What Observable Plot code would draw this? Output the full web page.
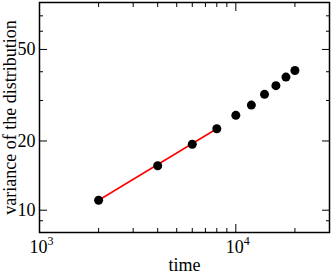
<!DOCTYPE html>
<html><head><meta charset="utf-8">
<script src="https://cdn.jsdelivr.net/npm/d3@7"></script>
<script src="https://cdn.jsdelivr.net/npm/@observablehq/plot@0.6"></script>
<style>body{margin:0;background:#fff} svg{display:block}</style>
</head><body><div id="chart"></div>
<script>
const time = [2000, 4000, 6000, 8000, 10000, 12000, 14000, 16000, 18000, 20000];
const variance = [11.05, 15.6, 19.35, 22.6, 25.85, 28.65, 31.9, 34.8, 37.9, 40.5];
const fitTime = [2000, 8000];
const fitVariance = [11.05, 22.6];
const xMajor = [1000, 10000];
const xMinor = [2000, 3000, 4000, 5000, 6000, 7000, 8000, 9000, 20000];
const xTickLabels = ["10^3", "10^4"];
const yMajor = [10, 20, 50];
const yMinor = [9, 30, 40, 60, 70];
const yTickLabels = ["10", "20", "50"];
const xLabel = "time";
const yLabel = "variance of the distribution";

const points = time.map((t, i) => ({t, v: variance[i]}));
const fit = fitTime.map((t, i) => ({t, v: fitVariance[i]}));
const font = "'Liberation Serif', 'Times New Roman', serif";

const tickOnly = () => "";
const chart = Plot.plot({
  width: 333, height: 273,
  marginLeft: 39, marginRight: 4, marginTop: 2, marginBottom: 41,
  style: {fontFamily: font, fontSize: "18px", background: "white", color: "black"},
  x: {type: "log", domain: [1000, 30000]},
  y: {type: "log", domain: [8, 80]},
  marks: [
    // inward ticks, all four sides
    Plot.axisX(xMajor, {anchor: "bottom", tickSize: -8, tickFormat: tickOnly, label: null}),
    Plot.axisX(xMinor, {anchor: "bottom", tickSize: -4, tickFormat: tickOnly, label: null}),
    Plot.axisX(xMajor, {anchor: "top", tickSize: -8, tickFormat: tickOnly, label: null}),
    Plot.axisX(xMinor, {anchor: "top", tickSize: -4, tickFormat: tickOnly, label: null}),
    Plot.axisY(yMajor, {anchor: "left", tickSize: -8, tickFormat: tickOnly, label: null}),
    Plot.axisY(yMinor, {anchor: "left", tickSize: -4, tickFormat: tickOnly, label: null}),
    Plot.axisY(yMajor, {anchor: "right", tickSize: -8, tickFormat: tickOnly, label: null}),
    Plot.axisY(yMinor, {anchor: "right", tickSize: -4, tickFormat: tickOnly, label: null}),
    // tick labels
    Plot.axisX(xMajor, {anchor: "bottom", tickSize: 0, tickPadding: 8, dx: 2,
      tickFormat: d => xTickLabels[xMajor.indexOf(d)], label: null, fontSize: 18}),
    Plot.axisY(yMajor, {anchor: "left", tickSize: 0, tickPadding: 4,
      tickFormat: d => yTickLabels[yMajor.indexOf(d)], label: null, fontSize: 18}),
    // axis titles
    Plot.text([xLabel], {frameAnchor: "bottom", textAnchor: "middle", lineAnchor: "bottom", dy: 38, fontSize: 18}),
    Plot.text([yLabel], {frameAnchor: "left", textAnchor: "middle", rotate: -90, lineAnchor: "bottom", dx: -24, fontSize: 18}),
    Plot.frame({stroke: "black", strokeWidth: 1.5}),
    Plot.line(fit, {x: "t", y: "v", stroke: "#ff0000", strokeWidth: 1.5}),
    Plot.dot(points, {x: "t", y: "v", r: 4.5, fill: "black", stroke: "none"})
  ]
});
document.getElementById("chart").appendChild(chart);

// superscript exponents for the x tick labels
d3.select(chart).selectAll('g[aria-label="x-axis tick label"] text').each(function() {
  const s = this.textContent;
  if (!s.includes("^")) return;
  const [base, exp] = s.split("^");
  const t = d3.select(this);
  t.text(base);
  t.append("tspan").attr("dy", -8).attr("font-size", 12).text(exp);
});
</script>
</body></html>
